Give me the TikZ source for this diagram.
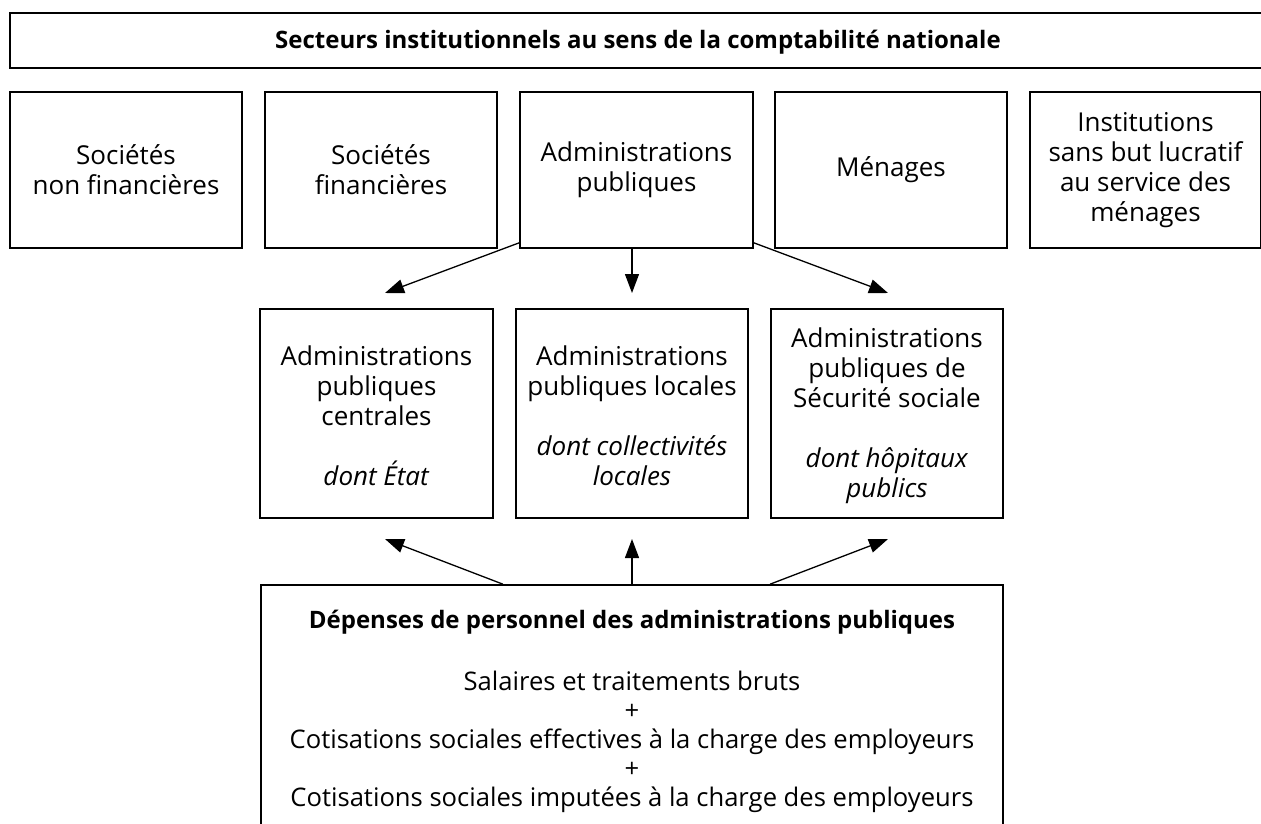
\documentclass[tikz,border=0pt]{standalone}
\usepackage{fontspec}
\setmainfont{Open Sans}
\usetikzlibrary{arrows.meta}
\begin{document}
\begin{tikzpicture}[x=1pt,y=-1pt,
  box/.style={draw, line width=1.6pt, inner sep=0pt, align=center},
  reg/.style={font=\fontsize{26}{30}\selectfont},
  bld/.style={font=\fontsize{24}{28}\selectfont\bfseries},
  arr/.style={-{Triangle[length=19pt,width=14pt]}, line width=1.3pt}]
\useasboundingbox (0,0) rectangle (1261,823);
% top banner
\node[box, minimum width=1256pt, minimum height=55pt] (sect) at (638,40.5) {};
\node[bld] (secttxt) at (638,42) {Secteurs institutionnels au sens de la comptabilité nationale};
% row 1
\node[box, reg, minimum width=232pt, minimum height=156pt] (snf) at (126,170) {Sociétés\\non financières};
\node[box, reg, minimum width=232pt, minimum height=156pt] (sf) at (381,170) {Sociétés\\financières};
\node[box, reg, minimum width=233pt, minimum height=156pt] (ap) at (636.5,170) {Administrations\\publiques};
\node[box, reg, minimum width=232pt, minimum height=156pt] (men) at (891,170) {Ménages};
\node[box, reg, minimum width=231pt, minimum height=156pt] (isbl) at (1145.5,170) {Institutions\\sans but lucratif\\au service des\\ménages};
% row 2
\node[box, minimum width=233pt, minimum height=209pt] (apc) at (376.5,413.5) {};
\node[reg, align=center] (apctxt) at (376.5,416) {Administrations\\publiques\\centrales\\[30pt]\textit{dont État}};
\node[box, minimum width=232pt, minimum height=209pt] (apl) at (632,413.5) {};
\node[reg, align=center] (apltxt) at (632,416) {Administrations\\publiques locales\\[30pt]\textit{dont collectivités}\\\textit{locales}};
\node[box, minimum width=232pt, minimum height=209pt] (asso) at (887,413.5) {};
\node[reg, align=center] (assotxt) at (887,416) {Administrations\\publiques de\\Sécurité sociale\\[30pt]\textit{dont hôpitaux}\\\textit{publics}};
% bottom box
\node[box, minimum width=742pt, minimum height=280pt] (dep) at (632,725) {};
\node[bld] (deptitle) at (632,622) {Dépenses de personnel des administrations publiques};
\node[align=center, font=\fontsize{25.6}{29}\selectfont] (deptxt) at (632,742) {Salaires et traitements bruts\\+\\Cotisations sociales effectives à la charge des employeurs\\+\\Cotisations sociales imputées à la charge des employeurs};
% arrow end points
\coordinate (t1) at (385,293);
\coordinate (t2) at (632,293);
\coordinate (t3) at (888,293);
\coordinate (u1) at (385,539);
\coordinate (u2) at (632,539);
\coordinate (u3) at (888,539);
\coordinate (b1) at (503,585);
\coordinate (b3) at (770,585);
% arrows from AP
\draw[arr] ([yshift=6pt]ap.south west) -- (t1);
\draw[arr] (ap.south -| t2) -- (t2);
\draw[arr] ([yshift=6pt]ap.south east) -- (t3);
% arrows from bottom box
\draw[arr] (dep.north -| b1) -- (u1);
\draw[arr] (dep.north -| u2) -- (u2);
\draw[arr] (dep.north -| b3) -- (u3);
\end{tikzpicture}
\end{document}
